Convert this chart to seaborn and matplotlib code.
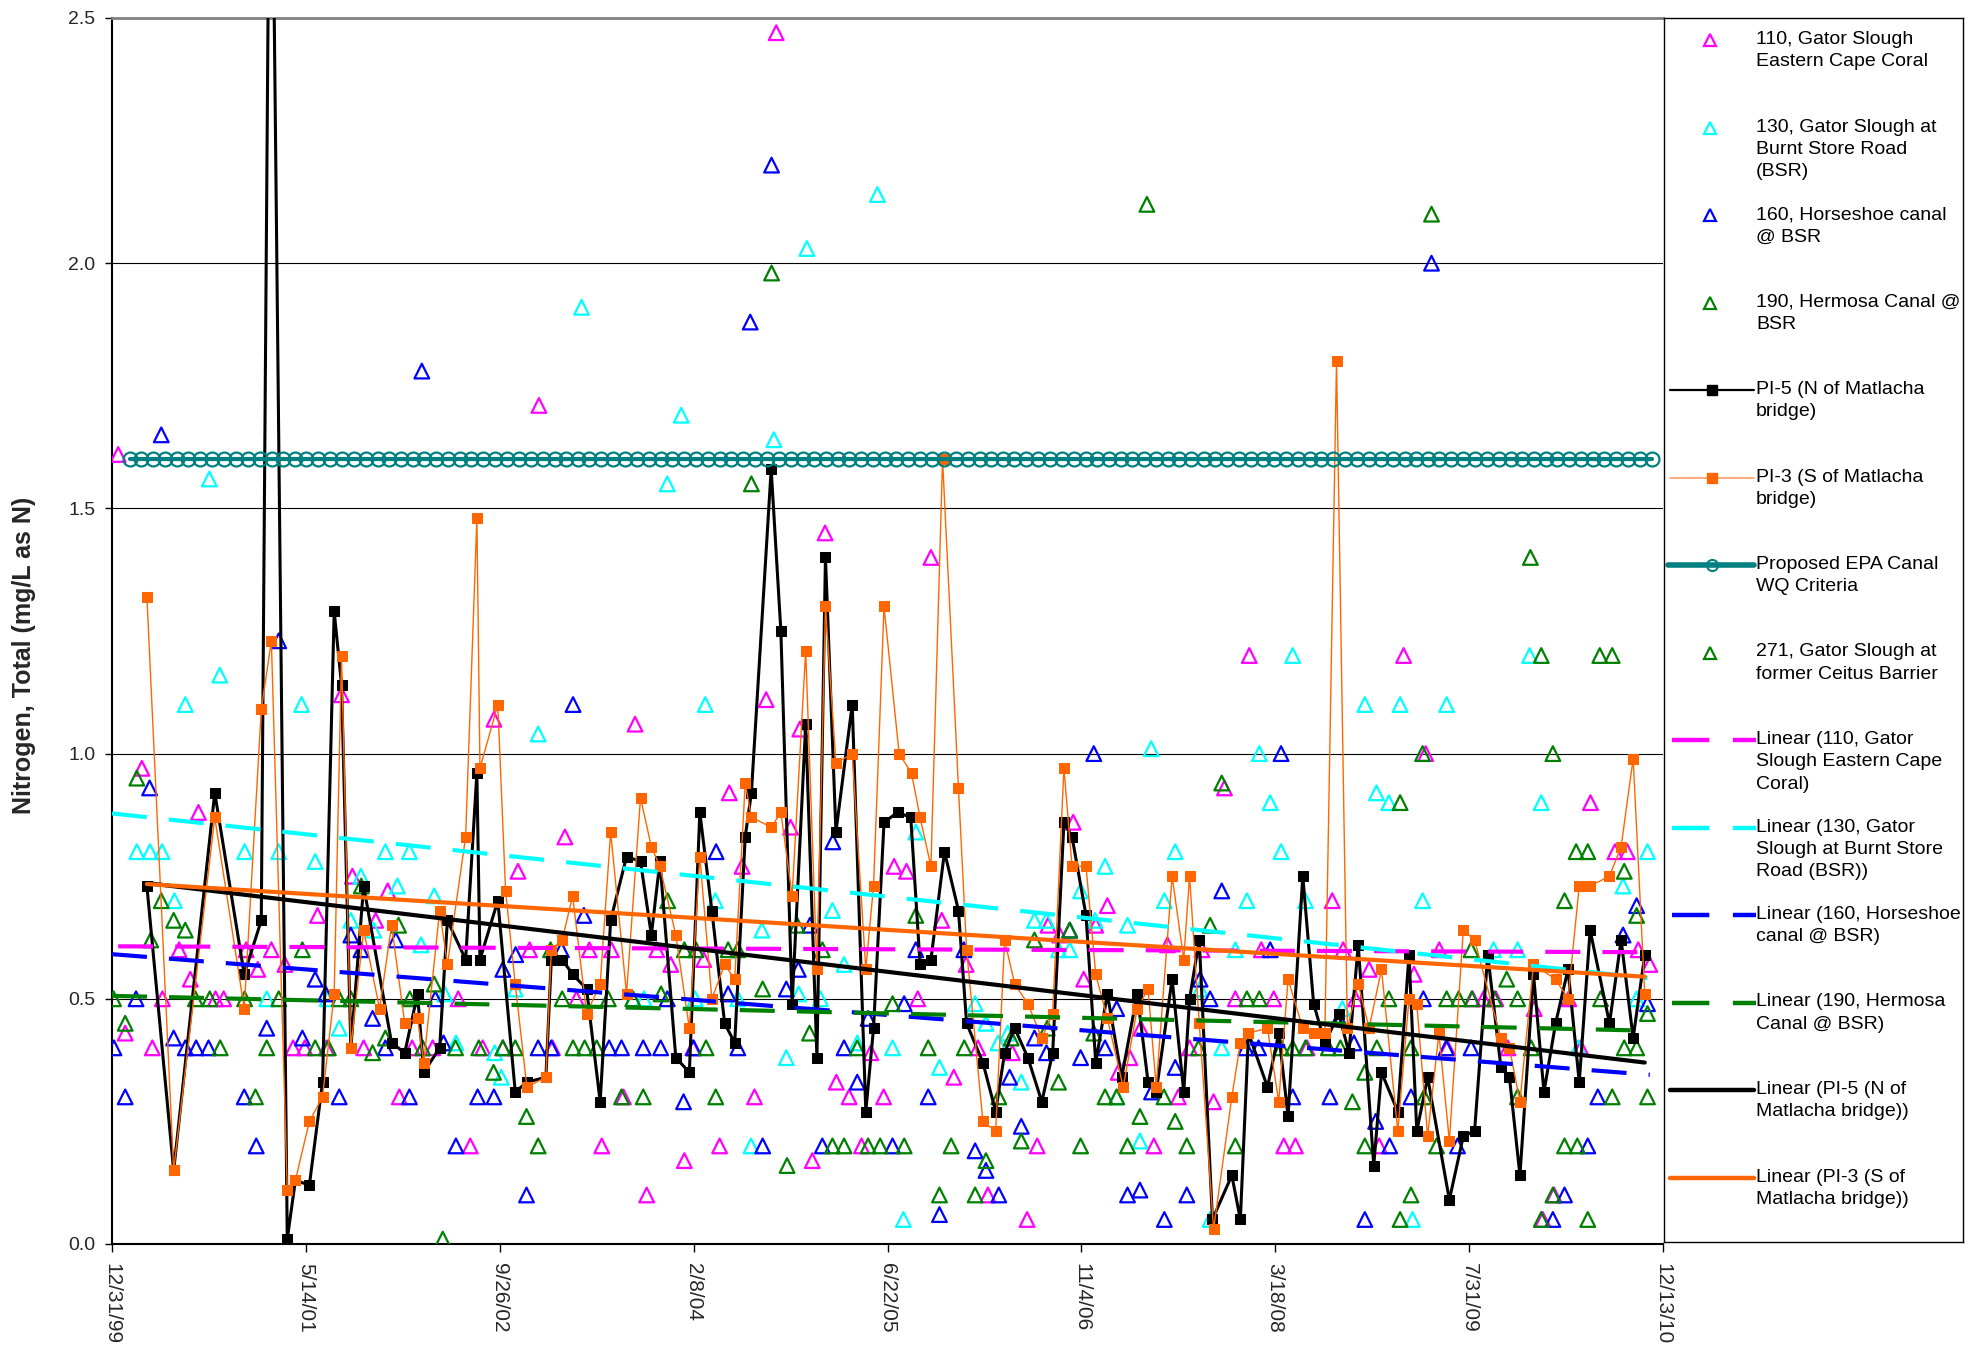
import numpy as np
import pandas as pd
import matplotlib
matplotlib.use("Agg")
import matplotlib.pyplot as plt
import seaborn as sns

# ---------------- data (day offsets from 12/31/1999, TN mg/L) ----------------
site_110 = [(16, 1.61), (34, 0.43), (77, 0.97), (104, 0.40), (130, 0.50), (173, 0.60), (202, 0.54), (223, 0.88),
            (267, 0.50), (288, 0.50), (346, 0.60), (376, 0.56), (411, 0.60), (446, 0.57), (467, 0.40), (497, 0.40),
            (530, 0.67), (553, 0.40), (592, 1.12), (620, 0.75), (649, 0.40), (680, 0.66), (711, 0.72), (741, 0.30),
            (774, 0.40), (827, 0.40), (893, 0.50), (924, 0.20), (956, 0.40), (985, 1.07), (1008, 0.40), (1047, 0.76),
            (1077, 0.60), (1101, 1.71), (1136, 0.40), (1168, 0.83), (1198, 0.50), (1231, 0.60), (1263, 0.20),
            (1288, 0.60), (1319, 0.30), (1349, 1.06), (1379, 0.10), (1405, 0.60), (1441, 0.57), (1476, 0.17),
            (1498, 0.40), (1526, 0.58), (1567, 0.20), (1592, 0.92), (1625, 0.77), (1657, 0.30), (1687, 1.11),
            (1713, 2.47), (1750, 0.85), (1774, 1.05), (1806, 0.17), (1839, 1.45), (1868, 0.33), (1901, 0.30),
            (1933, 0.20), (1957, 0.39), (1990, 0.30), (2017, 0.77), (2049, 0.76), (2078, 0.50), (2112, 1.40),
            (2140, 0.66), (2171, 0.34), (2203, 0.57), (2233, 0.40), (2259, 0.10), (2322, 0.39), (2360, 0.05),
            (2386, 0.20), (2414, 0.65), (2444, 0.63), (2479, 0.86), (2506, 0.54), (2537, 0.65), (2567, 0.69),
            (2595, 0.35), (2625, 0.38), (2653, 0.44), (2687, 0.20), (2722, 0.61), (2750, 0.30), (2779, 0.40),
            (2811, 0.60), (2841, 0.29), (2869, 0.93), (2897, 0.50), (2933, 1.20), (2964, 0.60), (2996, 0.50),
            (3022, 0.20), (3052, 0.20), (3082, 0.40), (3147, 0.70), (3175, 0.60), (3207, 0.50), (3242, 0.56),
            (3268, 0.20), (3331, 1.20), (3358, 0.55), (3388, 1.00), (3423, 0.60), (3444, 0.40), (3509, 0.50),
            (3537, 0.50), (3569, 0.50), (3600, 0.40), (3668, 0.48), (3690, 0.05), (3719, 0.10), (3757, 0.50),
            (3788, 0.40), (3813, 0.90), (3876, 0.80), (3908, 0.80), (3936, 0.60), (3966, 0.57)]

site_130 = [(64, 0.80), (98, 0.80), (129, 0.80), (161, 0.70), (189, 1.10), (251, 1.56), (278, 1.16), (342, 0.80),
            (399, 0.50), (430, 0.80), (489, 1.10), (524, 0.78), (555, 0.50), (586, 0.44), (616, 0.66), (642, 0.75),
            (675, 0.64), (705, 0.80), (736, 0.73), (767, 0.80), (797, 0.61), (831, 0.71), (858, 0.51), (887, 0.41),
            (987, 0.39), (1004, 0.34), (1040, 0.52), (1099, 1.04), (1211, 1.91), (1344, 0.50), (1372, 0.50),
            (1432, 1.55), (1468, 1.69), (1504, 0.50), (1530, 1.10), (1556, 0.70), (1614, 0.50), (1648, 0.20),
            (1676, 0.64), (1707, 1.64), (1739, 0.38), (1771, 0.51), (1792, 2.03), (1827, 0.50), (1858, 0.68),
            (1888, 0.57), (1922, 0.41), (1974, 2.14), (2013, 0.40), (2041, 0.05), (2073, 0.84), (2134, 0.36),
            (2226, 0.49), (2254, 0.45), (2285, 0.41), (2310, 0.43), (2345, 0.33), (2379, 0.66), (2410, 0.66),
            (2441, 0.60), (2470, 0.60), (2498, 0.72), (2535, 0.66), (2561, 0.77), (2591, 0.30), (2619, 0.65),
            (2651, 0.21), (2680, 1.01), (2714, 0.70), (2742, 0.80), (2806, 0.52), (2832, 0.05), (2862, 0.40),
            (2897, 0.60), (2927, 0.70), (2959, 1.00), (2987, 0.90), (3015, 0.80), (3045, 1.20), (3078, 0.70),
            (3173, 0.48), (3231, 1.10), (3261, 0.92), (3293, 0.90), (3322, 1.10), (3354, 0.05), (3380, 0.70),
            (3442, 1.10), (3563, 0.60), (3625, 0.60), (3656, 1.20), (3686, 0.90), (3781, 0.40), (3897, 0.73),
            (3932, 0.50), (3960, 0.80)]

site_160 = [(5, 0.40), (34, 0.30), (62, 0.50), (97, 0.93), (127, 1.65), (159, 0.42), (189, 0.40), (217, 0.40),
            (249, 0.40), (341, 0.30), (372, 0.20), (399, 0.44), (430, 1.23), (491, 0.42), (524, 0.54), (551, 0.51),
            (586, 0.30), (616, 0.63), (642, 0.60), (672, 0.46), (705, 0.40), (732, 0.62), (767, 0.30), (799, 1.78),
            (834, 0.50), (855, 0.41), (887, 0.20), (943, 0.30), (985, 0.30), (1008, 0.56), (1041, 0.59),
            (1069, 0.10), (1099, 0.40), (1133, 0.40), (1159, 0.60), (1189, 1.10), (1217, 0.67), (1282, 0.40),
            (1314, 0.40), (1370, 0.40), (1415, 0.40), (1432, 0.50), (1474, 0.29), (1500, 0.40), (1558, 0.80),
            (1589, 0.51), (1614, 0.40), (1646, 1.88), (1678, 0.20), (1701, 2.20), (1739, 0.52), (1770, 0.56),
            (1800, 0.65), (1832, 0.20), (1859, 0.82), (1888, 0.40), (1922, 0.33), (1950, 0.46), (2013, 0.20),
            (2043, 0.49), (2073, 0.60), (2105, 0.30), (2134, 0.06), (2197, 0.60), (2226, 0.19), (2254, 0.15),
            (2287, 0.10), (2315, 0.34), (2345, 0.24), (2379, 0.42), (2410, 0.39), (2470, 0.64), (2498, 0.38),
            (2532, 1.00), (2561, 0.40), (2591, 0.48), (2619, 0.10), (2651, 0.11), (2681, 0.31), (2714, 0.05),
            (2742, 0.36), (2772, 0.10), (2806, 0.54), (2832, 0.50), (2862, 0.72), (2924, 0.40), (2957, 0.40),
            (2987, 0.60), (3015, 1.00), (3045, 0.30), (3141, 0.30), (3164, 0.46), (3203, 0.41), (3231, 0.05),
            (3259, 0.25), (3295, 0.20), (3350, 0.30), (3382, 0.50), (3403, 2.00), (3441, 0.40), (3470, 0.20),
            (3505, 0.40), (3716, 0.05), (3746, 0.10), (3806, 0.20), (3832, 0.30), (3897, 0.63), (3932, 0.69),
            (3960, 0.49)]

site_190 = [(4, 0.50), (34, 0.45), (64, 0.95), (100, 0.62), (127, 0.70), (159, 0.66), (189, 0.64), (215, 0.50),
            (252, 0.50), (279, 0.40), (342, 0.50), (370, 0.30), (399, 0.40), (430, 0.50), (491, 0.60), (524, 0.40),
            (558, 0.40), (586, 0.50), (616, 0.50), (643, 0.73), (672, 0.39), (705, 0.42), (739, 0.65), (768, 0.50),
            (801, 0.40), (831, 0.53), (853, 0.01), (886, 0.40), (946, 0.40), (984, 0.35), (1008, 0.40),
            (1040, 0.40), (1069, 0.26), (1099, 0.20), (1131, 0.60), (1161, 0.50), (1189, 0.40), (1219, 0.40),
            (1250, 0.40), (1280, 0.50), (1314, 0.30), (1343, 0.50), (1370, 0.30), (1416, 0.51), (1433, 0.70),
            (1476, 0.60), (1506, 0.60), (1532, 0.40), (1557, 0.30), (1589, 0.60), (1614, 0.60), (1649, 1.55),
            (1678, 0.52), (1701, 1.98), (1741, 0.16), (1767, 0.65), (1799, 0.43), (1832, 0.60), (1858, 0.20),
            (1888, 0.20), (1922, 0.40), (1950, 0.20), (1981, 0.20), (2013, 0.49), (2043, 0.20), (2073, 0.67),
            (2105, 0.40), (2134, 0.10), (2164, 0.20), (2198, 0.40), (2226, 0.10), (2254, 0.17), (2287, 0.30),
            (2319, 0.42), (2345, 0.21), (2379, 0.62), (2412, 0.44), (2441, 0.33), (2470, 0.64), (2498, 0.20),
            (2532, 0.43), (2561, 0.30), (2591, 0.30), (2619, 0.20), (2651, 0.26), (2669, 2.12), (2713, 0.30),
            (2742, 0.25), (2772, 0.20), (2802, 0.40), (2832, 0.65), (2862, 0.94), (2897, 0.20), (2927, 0.50),
            (2959, 0.50), (3016, 0.40), (3045, 0.40), (3078, 0.40), (3137, 0.40), (3168, 0.40), (3199, 0.29),
            (3231, 0.35), (3231, 0.20), (3262, 0.40), (3293, 0.50), (3322, 0.05), (3350, 0.10), (3384, 0.30),
            (3416, 0.20), (3473, 0.50), (3507, 0.50), (3565, 0.50), (3625, 0.30), (3660, 0.40), (3686, 0.05),
            (3716, 0.10), (3746, 0.20), (3779, 0.20), (3806, 0.05), (3839, 0.50), (3869, 0.30), (3900, 0.40),
            (3932, 0.40), (3960, 0.30)]

site_271 = [(3322, 0.90), (3350, 0.40), (3380, 1.00), (3403, 2.10), (3442, 0.50), (3505, 0.60), (3597, 0.54),
            (3625, 0.50), (3658, 1.40), (3686, 1.20), (3716, 1.00), (3746, 0.70), (3776, 0.80), (3806, 0.80),
            (3837, 1.20), (3869, 1.20), (3900, 0.76), (3932, 0.67), (3960, 0.47)]

pi5 = [(90, 0.73), (159, 0.15), (265, 0.92), (341, 0.55), (385, 0.66), (409, 3.20), (452, 0.01), (473, 0.13),
       (509, 0.12), (543, 0.33), (573, 1.29), (592, 1.14), (616, 0.40), (649, 0.73), (721, 0.41), (755, 0.39),
       (788, 0.51), (804, 0.35), (845, 0.40), (865, 0.66), (912, 0.58), (941, 0.96), (949, 0.58), (995, 0.70),
       (1040, 0.31), (1070, 0.33), (1119, 0.34), (1133, 0.58), (1161, 0.58), (1188, 0.55), (1224, 0.52),
       (1259, 0.29), (1286, 0.66), (1327, 0.79), (1363, 0.78), (1391, 0.63), (1413, 0.78), (1454, 0.38),
       (1489, 0.35), (1516, 0.88), (1547, 0.68), (1580, 0.45), (1606, 0.41), (1633, 0.83), (1649, 0.92),
       (1700, 1.58), (1725, 1.25), (1754, 0.49), (1789, 1.06), (1818, 0.38), (1840, 1.40), (1867, 0.84),
       (1909, 1.10), (1944, 0.27), (1964, 0.44), (1991, 0.86), (2026, 0.88), (2060, 0.87), (2084, 0.57),
       (2112, 0.58), (2147, 0.80), (2183, 0.68), (2204, 0.45), (2246, 0.37), (2279, 0.27), (2302, 0.39),
       (2328, 0.44), (2362, 0.38), (2398, 0.29), (2426, 0.39), (2455, 0.86), (2476, 0.83), (2512, 0.67),
       (2537, 0.37), (2567, 0.51), (2604, 0.34), (2644, 0.51), (2672, 0.33), (2693, 0.31), (2734, 0.54),
       (2764, 0.31), (2779, 0.50), (2804, 0.62), (2838, 0.05), (2888, 0.14), (2910, 0.05), (2931, 0.43),
       (2980, 0.32), (3009, 0.43), (3033, 0.26), (3071, 0.75), (3099, 0.49), (3128, 0.41), (3164, 0.47),
       (3190, 0.39), (3214, 0.61), (3254, 0.16), (3274, 0.35), (3316, 0.27), (3345, 0.59), (3365, 0.23),
       (3393, 0.34), (3449, 0.09), (3485, 0.22), (3514, 0.23), (3548, 0.59), (3582, 0.36), (3604, 0.34),
       (3631, 0.14), (3666, 0.55), (3693, 0.31), (3723, 0.45), (3755, 0.56), (3784, 0.33), (3812, 0.64),
       (3862, 0.45), (3892, 0.62), (3923, 0.42), (3953, 0.59)]

pi3 = [(90, 1.32), (159, 0.15), (265, 0.87), (341, 0.48), (385, 1.09), (411, 1.23), (452, 0.11), (473, 0.13),
       (509, 0.25), (543, 0.30), (573, 0.51), (592, 1.20), (616, 0.40), (649, 0.64), (690, 0.48), (721, 0.65),
       (755, 0.45), (788, 0.46), (804, 0.37), (845, 0.68), (865, 0.57), (912, 0.83), (941, 1.48), (949, 0.97),
       (995, 1.10), (1015, 0.72), (1040, 0.53), (1070, 0.32), (1119, 0.34), (1133, 0.60), (1161, 0.62),
       (1188, 0.71), (1224, 0.47), (1259, 0.53), (1286, 0.84), (1327, 0.51), (1363, 0.91), (1391, 0.81),
       (1413, 0.77), (1454, 0.63), (1489, 0.44), (1516, 0.79), (1547, 0.50), (1580, 0.57), (1606, 0.54),
       (1633, 0.94), (1649, 0.87), (1700, 0.85), (1725, 0.88), (1754, 0.71), (1789, 1.21), (1818, 0.56),
       (1840, 1.30), (1867, 0.98), (1909, 1.00), (1944, 0.56), (1964, 0.73), (1991, 1.30), (2030, 1.00),
       (2062, 0.96), (2084, 0.87), (2112, 0.77), (2142, 1.60), (2183, 0.93), (2204, 0.60), (2246, 0.25),
       (2279, 0.23), (2302, 0.62), (2328, 0.53), (2362, 0.49), (2398, 0.42), (2426, 0.47), (2455, 0.97),
       (2476, 0.77), (2512, 0.77), (2537, 0.55), (2567, 0.46), (2608, 0.32), (2644, 0.48), (2672, 0.52),
       (2693, 0.32), (2734, 0.75), (2764, 0.58), (2779, 0.75), (2804, 0.45), (2841, 0.03), (2888, 0.30),
       (2910, 0.41), (2931, 0.43), (2980, 0.44), (3009, 0.29), (3033, 0.54), (3071, 0.44), (3099, 0.43),
       (3128, 0.43), (3158, 1.80), (3186, 0.44), (3214, 0.53), (3242, 0.44), (3274, 0.56), (3316, 0.23),
       (3345, 0.50), (3365, 0.49), (3393, 0.22), (3422, 0.43), (3449, 0.21), (3485, 0.64), (3514, 0.62),
       (3582, 0.42), (3604, 0.40), (3631, 0.29), (3666, 0.57), (3723, 0.54), (3755, 0.50), (3784, 0.73),
       (3812, 0.73), (3862, 0.75), (3892, 0.81), (3923, 0.99), (3953, 0.51)]

epa_start, epa_end, epa_value = "2000-01-15", "2010-11-15", 1.6

# linear trend lines (start/end)
trend_110 = [(16, 0.607), (3966, 0.595)]
trend_130 = [(0, 0.878), (3960, 0.542)]
trend_160 = [(0, 0.591), (3966, 0.345)]
trend_190 = [(0, 0.506), (3962, 0.435)]
trend_pi5 = [(90, 0.736), (3953, 0.370)]
trend_pi3 = [(90, 0.734), (3953, 0.545)]

xtick_dates = ["1999-12-31", "2001-05-14", "2002-09-26", "2004-02-08", "2005-06-22",
               "2006-11-04", "2008-03-18", "2009-07-31", "2010-12-13"]
xtick_labels = ["12/31/99", "5/14/01", "9/26/02", "2/8/04", "6/22/05", "11/4/06", "3/18/08", "7/31/09", "12/13/10"]
ytick_vals = [0.0, 0.5, 1.0, 1.5, 2.0, 2.5]
ylabel = "Nitrogen, Total (mg/L as N)"

legend_labels = [
    "110, Gator Slough\nEastern Cape Coral",
    "130, Gator Slough at\nBurnt Store Road\n(BSR)",
    "160, Horseshoe canal\n@ BSR",
    "190, Hermosa Canal @\nBSR",
    "PI-5 (N of Matlacha\nbridge)",
    "PI-3 (S of Matlacha\nbridge)",
    "Proposed EPA Canal\nWQ Criteria",
    "271, Gator Slough at\nformer Ceitus Barrier",
    "Linear (110, Gator\nSlough Eastern Cape\nCoral)",
    "Linear (130, Gator\nSlough at Burnt Store\nRoad (BSR))",
    "Linear (160, Horseshoe\ncanal @ BSR)",
    "Linear (190, Hermosa\nCanal @ BSR)",
    "Linear (PI-5 (N of\nMatlacha bridge))",
    "Linear (PI-3 (S of\nMatlacha bridge))",
]

# ---------------- styling ----------------
MAG, CYA, BLU, GRN = "#FF00FF", "#00FFFF", "#0000FF", "#008000"
BLK, ORG, TEAL = "#000000", "#FF6600", "#008080"

sns.set_theme(style="white")
plt.rcParams["font.family"] = ["Liberation Sans", "DejaVu Sans"]

ORIGIN = pd.Timestamp("1999-12-31")


def unpack(pairs):
    d = np.array([p[0] for p in pairs], dtype=float)
    v = np.array([p[1] for p in pairs], dtype=float)
    return ORIGIN + pd.to_timedelta(d, unit="D"), v


W, H = 1974, 1346
fig = plt.figure(figsize=(W / 100, H / 100), dpi=100)
ax = fig.add_axes([112 / W, 1 - 1244 / H, (1663 - 112) / W, (1244 - 18) / H])

TRI = dict(marker="^", s=112, facecolor="none", linewidth=1.6, zorder=3)
for pairs, col in [(site_110, MAG), (site_130, CYA), (site_160, BLU), (site_190, GRN)]:
    x, y = unpack(pairs)
    sns.scatterplot(x=x, y=y, color=col, edgecolor=col, ax=ax, legend=False, **TRI)

x, y = unpack(pi5)
sns.lineplot(x=x, y=y, color=BLK, lw=2.2, marker="s", markersize=7, markeredgecolor=BLK,
             markerfacecolor=BLK, estimator=None, sort=False, ax=ax, zorder=4)
x, y = unpack(pi3)
sns.lineplot(x=x, y=y, color=ORG, lw=1.0, marker="s", markersize=7, markeredgecolor=ORG,
             markerfacecolor=ORG, estimator=None, sort=False, ax=ax, zorder=4)

epa_x = pd.date_range(epa_start, epa_end, freq="MS") + pd.Timedelta(days=14)
epa_y = np.full(len(epa_x), epa_value)
sns.lineplot(x=epa_x, y=epa_y, color=TEAL, lw=3.0, marker="o", markersize=10, markerfacecolor="none",
             markeredgecolor=TEAL, markeredgewidth=1.6, estimator=None, ax=ax, zorder=4)

x, y = unpack(site_271)
sns.scatterplot(x=x, y=y, color=GRN, edgecolor=GRN, ax=ax, legend=False, **TRI)

DASH = (0, (8.4, 5.3))
for pairs, col, ls in [(trend_110, MAG, DASH), (trend_130, CYA, DASH), (trend_160, BLU, DASH),
                       (trend_190, GRN, DASH), (trend_pi5, BLK, "-"), (trend_pi3, ORG, "-")]:
    x, y = unpack(pairs)
    sns.lineplot(x=x, y=y, color=col, lw=3.0, linestyle=ls, estimator=None, ax=ax, zorder=6)

# axes formatting
ax.set_xlim(ORIGIN, pd.Timestamp("2010-12-13"))
ax.set_ylim(0, 2.5)
ax.set_yticks(ytick_vals)
ax.set_yticklabels([f"{v:.1f}" for v in ytick_vals], fontsize=14)
ax.set_xticks(pd.to_datetime(xtick_dates))
ax.set_xticklabels(xtick_labels, rotation=-90, fontsize=15, ha="center", va="top")
ax.tick_params(axis="x", bottom=True, direction="out", length=6, width=1, color="black", pad=8)
ax.tick_params(axis="y", left=True, direction="out", length=5, width=1, color="black", pad=7)
ax.grid(axis="y", color="black", lw=0.8)
ax.grid(axis="x", visible=False)
ax.set_axisbelow(True)
ax.set_xlabel("")
ax.set_ylabel(ylabel, fontsize=18, fontweight="bold")
ax.yaxis.set_label_coords(-0.049, 0.48)
for s in ["left", "bottom"]:
    ax.spines[s].set_color("black")
    ax.spines[s].set_linewidth(1.5)
ax.spines["top"].set_color("#808080")
ax.spines["top"].set_linewidth(2)
ax.spines["right"].set_visible(False)

# ---------------- legend panel ----------------
lax = fig.add_axes([1664 / W, 1 - 1242 / H, 299 / W, (1242 - 18) / H])
lax.set_xlim(0, 299)
lax.set_ylim(1224, 0)
lax.set_xticks([])
lax.set_yticks([])
for s in lax.spines.values():
    s.set_color("black")
    s.set_linewidth(1.0)

handles = [("tri", MAG), ("tri", CYA), ("tri", BLU), ("tri", GRN), ("pi", BLK), ("pi3", ORG), ("epa", TEAL),
           ("tri", GRN), ("dash", MAG), ("dash", CYA), ("dash", BLU), ("dash", GRN), ("solid", BLK), ("solid", ORG)]
for i, ((kind, col), lab) in enumerate(zip(handles, legend_labels)):
    yy = 22 + 87.5 * i
    if kind == "tri":
        lax.plot([46], [yy], marker="^", ms=9, mfc="none", mec=col, mew=1.6, ls="none")
    elif kind == "pi":
        lax.plot([6, 90], [yy, yy], color=col, lw=1.6)
        lax.plot([48], [yy], marker="s", ms=7, color=col)
    elif kind == "pi3":
        lax.plot([6, 90], [yy, yy], color="#FF9966", lw=1.2)
        lax.plot([48], [yy], marker="s", ms=7, color=col)
    elif kind == "epa":
        lax.plot([4, 90], [yy, yy], color=col, lw=4, solid_capstyle="round")
        lax.plot([48], [yy], marker="o", ms=8, mfc="none", mec=col, mew=1.5)
    elif kind == "dash":
        lax.plot([8, 92], [yy, yy], color=col, lw=3.2, linestyle=DASH)
    else:
        lax.plot([6, 90], [yy, yy], color=col, lw=3.2, solid_capstyle="round")
    lax.text(92, yy - 9, lab, fontsize=14, va="top", ha="left", color="black", linespacing=1.42)

fig.savefig("out.png", dpi=100)
